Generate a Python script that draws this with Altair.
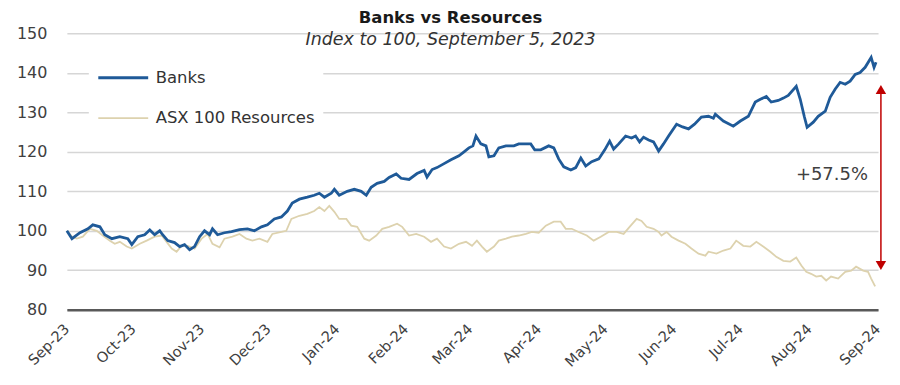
import altair as alt
import pandas as pd

# ---- data (days since 5 Sep 2023, index level) ----
banks_days = [0, 2.3, 5.9, 9.5, 11.7, 14.9, 17.1, 20.3, 23.9, 27.5,
              29.3, 32.0, 35.1, 37.4, 39.6, 41.9, 43.2, 45.5, 48.6, 50.9,
              53.1, 55.4, 57.6, 59.9, 62.1, 64.4, 65.7, 68.0, 71.1, 74.3,
              77.9, 81.5, 84.6, 87.8, 90.5, 93.6, 96.8, 99.5, 101.7, 104.9,
              108.5, 111.6, 113.9, 116.2, 119.3, 120.7, 122.9, 126.5, 129.7, 132.8,
              135.1, 137.3, 140.0, 143.2, 145.4, 148.6, 150.8, 154.4, 158.0, 161.2,
              162.5, 164.8, 167.0, 170.2, 173.3, 176.9, 179.2, 181.4, 183.2, 184.6,
              186.8, 189.1, 190.4, 192.7, 194.9, 198.1, 201.7, 203.9, 209.3, 211.1,
              213.8, 217.4, 219.7, 221.9, 224.2, 227.4, 229.6, 231.9, 234.1, 236.8,
              240.0, 242.7, 244.9, 246.7, 249.0, 252.1, 254.8, 256.6, 258.4, 260.2,
              262.5, 264.7, 267.0, 269.2, 271.5, 275.1, 277.8, 280.5, 283.2, 286.3,
              289.5, 291.7, 292.6, 296.2, 300.7, 303.9, 307.5, 310.6, 312.9, 315.6,
              317.8, 321.0, 323.3, 325.5, 329.1, 330.9, 332.7, 334.0, 336.8, 339.0,
              342.2, 344.4, 346.7, 348.9, 351.2, 353.4, 355.7, 357.9, 360.2, 362.9,
              364.2, 365.1]
banks_vals = [100, 98, 99.5, 100.5, 101.5, 101, 99, 98, 98.5, 98,
              96.5, 98.5, 99, 100.2, 99, 100, 99, 97.5, 97, 96,
              96.5, 95.2, 96, 98.5, 100, 99, 100.5, 99, 99.5, 99.8,
              100.3, 100.5, 100, 101, 101.5, 103, 103.5, 105, 107, 108,
              108.5, 109, 109.5, 108.5, 109.5, 110.5, 109, 110, 110.5, 110,
              109, 111, 112, 112.5, 113.5, 114.4, 113.3, 113, 114.5, 115.3,
              113.6, 115.5, 116, 117, 118, 119, 120, 121, 121.5, 124,
              122, 121.5, 118.7, 119, 121, 121.5, 121.5, 122, 122, 120.5,
              120.5, 121.5, 121, 118.2, 116.2, 115.4, 116, 118.4, 116.4, 117.5,
              118.2, 120.5, 122.7, 120.7, 122, 124, 123.5, 124, 122.5, 123.7,
              123, 122.5, 120.2, 122, 124, 127, 126.3, 125.8, 127, 128.8,
              129, 128.5, 129.5, 127.8, 126.5, 127.8, 129, 132.6, 133.3, 134,
              132.6, 133, 133.6, 134.3, 136.6, 133.3, 129, 126.2, 127.5, 129,
              130.3, 133.8, 135.9, 137.6, 137.1, 137.9, 139.6, 140.1, 141.4, 143.9,
              141.4, 142.7]

res_days = [0, 2.3, 4.5, 7.2, 10.4, 13.5, 16.2, 19.4, 21.6, 23.9,
            27.0, 29.3, 32.9, 36.0, 39.6, 42.8, 45.0, 47.3, 49.5, 51.8,
            54.5, 57.6, 60.8, 63.5, 65.7, 68.9, 71.1, 74.7, 77.9, 81.0,
            83.7, 86.9, 90.5, 92.7, 96.8, 99.0, 101.3, 104.9, 108.5, 111.6,
            113.9, 116.2, 118.4, 120.7, 122.9, 126.1, 128.3, 131.0, 134.2, 136.4,
            139.6, 142.3, 145.4, 149.0, 151.3, 154.4, 157.6, 161.2, 164.3, 167.0,
            170.2, 173.3, 176.9, 180.1, 182.8, 185.0, 187.3, 189.5, 192.7, 194.9,
            198.1, 200.8, 203.9, 207.1, 209.8, 212.9, 216.1, 219.7, 222.8, 225.1,
            227.8, 230.9, 234.6, 237.7, 240.9, 244.5, 248.1, 251.2, 254.4, 257.1,
            259.3, 261.6, 264.7, 267.0, 268.3, 270.6, 272.8, 276.0, 279.1, 281.8,
            285.0, 288.1, 289.5, 293.1, 296.2, 299.4, 302.0, 305.2, 308.4, 311.1,
            314.2, 317.4, 320.1, 323.3, 326.4, 329.1, 331.4, 333.6, 335.8, 338.1,
            340.4, 342.6, 344.8, 348.0, 351.2, 353.9, 356.1, 359.3, 361.5, 362.9,
            364.7]
res_vals = [100, 98.5, 98, 98.5, 100.5, 100, 98.8, 97.5, 96.7, 97.2,
            96, 95.5, 96.7, 97.5, 98.5, 98.8, 97.2, 95.5, 94.7, 96.2,
            96.2, 95.5, 98, 99.2, 96.7, 95.8, 98, 98.5, 99.2, 98,
            97.5, 98, 97.2, 99.2, 99.7, 100, 103, 103.8, 104.3, 105,
            106, 105, 106.3, 104.8, 103, 103, 101.3, 101, 98, 97.5,
            98.8, 100.5, 101, 101.8, 101, 98.8, 99.2, 98.5, 97.2, 98,
            96, 95.5, 96.7, 97.2, 96.2, 97.5, 96, 94.7, 96, 97.5,
            98, 98.5, 98.8, 99.2, 99.7, 99.5, 101.3, 102.3, 102.3, 100.5,
            100.5, 99.7, 98.8, 97.5, 98.5, 99.7, 99.7, 99.2, 101.3, 103,
            102.5, 101, 100.5, 99.7, 98.8, 99.7, 98.5, 97.5, 96.7, 95.5,
            94.2, 93.7, 94.7, 94.2, 95, 95.5, 97.5, 96.2, 96, 97.2,
            96, 94.7, 93.4, 92.4, 92.2, 93.2, 91.2, 89.6, 89.1, 88.4,
            88.6, 87.4, 88.4, 87.9, 89.6, 89.9, 90.9, 89.9, 89.6, 87.9,
            85.9]

series_names = ["Banks", "ASX 100 Resources"]
series_colors = ["#1f5a98", "#ddd2ae"]
series_widths = [2.8, 1.8]

y_ticks = [80, 90, 100, 110, 120, 130, 140, 150]
tick_months = [(2023, 9), (2023, 10), (2023, 11), (2023, 12), (2024, 1), (2024, 2),
               (2024, 3), (2024, 4), (2024, 5), (2024, 6), (2024, 7), (2024, 8), (2024, 9)]

arrow_day = [367.3]
arrow_top = [135.8]
arrow_bottom = [91.2]
gap_label = ["+57.5%"]
gap_label_level = [114.1]

FONT = "DejaVu Sans"
start = pd.Timestamp("2023-09-05")


def to_iso(days):
    return [(start + pd.Timedelta(days=d)).strftime("%Y-%m-%dT%H:%M:%SZ") for d in days]


lines_df = pd.concat([
    pd.DataFrame({"date": to_iso(res_days), "value": res_vals, "series": series_names[1]}),
    pd.DataFrame({"date": to_iso(banks_days), "value": banks_vals, "series": series_names[0]}),
], ignore_index=True)

arrow_df = pd.DataFrame({"date": to_iso(arrow_day), "top": arrow_top, "bottom": arrow_bottom,
                         "label": gap_label, "level": gap_label_level})

x_scale = alt.Scale(type="utc",
                    domain=[alt.DateTime(year=2023, month=9, date=5, utc=True),
                            alt.DateTime(year=2024, month=9, date=5, utc=True)])
y_scale = alt.Scale(domain=[80, 150], nice=False, zero=False)

x_axis = alt.Axis(values=[alt.DateTime(year=y, month=m, date=5, utc=True) for y, m in tick_months],
                  format="%b-%y", labelAngle=315, labelAlign="right", labelBaseline="middle",
                  labelPadding=17, labelFont=FONT, labelFontSize=14.5,
                  labelColor="#404040",
                  grid=False, ticks=False, domain=True, domainColor="#595959", domainWidth=2.5,
                  title=None, labelOverlap=False)
y_axis = alt.Axis(values=y_ticks, grid=True, gridColor="#d6d6d6", gridWidth=1.5,
                  ticks=False, domain=False, labelPadding=20, labelFont=FONT,
                  labelFontSize=16, labelColor="#404040", title=None, labelOverlap=False)

lines = alt.Chart(lines_df).mark_line(interpolate="linear").encode(
    x=alt.X("date:T", scale=x_scale, axis=x_axis),
    y=alt.Y("value:Q", scale=y_scale, axis=y_axis),
    color=alt.Color("series:N",
                    scale=alt.Scale(domain=series_names, range=series_colors),
                    legend=alt.Legend(title=None, orient="none", legendX=22, legendY=10,
                                      symbolType="stroke", symbolSize=2500,
                                      symbolStrokeWidth=2.6, labelFont=FONT,
                                      labelFontSize=16.5, labelColor="#333333",
                                      labelOffset=6, fillColor="white", padding=8,
                                      rowPadding=6)),
    strokeWidth=alt.StrokeWidth("series:N",
                                scale=alt.Scale(domain=series_names, range=series_widths),
                                legend=None),
    order=alt.Order("date:T"),
)

xa = alt.X("date:T", scale=x_scale, axis=x_axis)
rule = alt.Chart(arrow_df).mark_rule(color="#c00000", strokeWidth=1.5).encode(
    x=xa, y=alt.Y("top:Q", scale=y_scale, axis=y_axis), y2="bottom:Q")
head_up = alt.Chart(arrow_df).mark_point(shape="triangle-up", filled=True, size=110,
                                         color="#c00000", opacity=1).encode(
    x=xa, y=alt.Y("top:Q", scale=y_scale, axis=y_axis))
head_down = alt.Chart(arrow_df).mark_point(shape="triangle-down", filled=True, size=110,
                                           color="#c00000", opacity=1).encode(
    x=xa, y=alt.Y("bottom:Q", scale=y_scale, axis=y_axis))
label = alt.Chart(arrow_df).mark_text(align="right", baseline="middle", dx=-13, font=FONT,
                                      fontSize=18, color="#404040").encode(
    x=xa, y=alt.Y("level:Q", scale=y_scale, axis=y_axis), text="label:N")

chart = alt.layer(lines, rule, head_up, head_down, label).properties(
    width=813, height=277,
    background="white",
    autosize=alt.AutoSizeParams(type="none"),
    padding={"left": 59, "top": 25, "right": 14, "bottom": 68},
    title=alt.TitleParams(text="Banks vs Resources",
                          subtitle="Index to 100, September 5, 2023",
                          font=FONT, fontSize=16.5, fontWeight="bold", color="#1a1a1a",
                          subtitleFont=FONT, subtitleFontSize=17.5, subtitleFontStyle="italic",
                          subtitleColor="#333333", subtitlePadding=4,
                          anchor="middle", frame="group", dx=-22, offset=-23),
).configure_view(stroke=None)

chart.save("out.html", embed_options={"renderer": "svg", "actions": False})
